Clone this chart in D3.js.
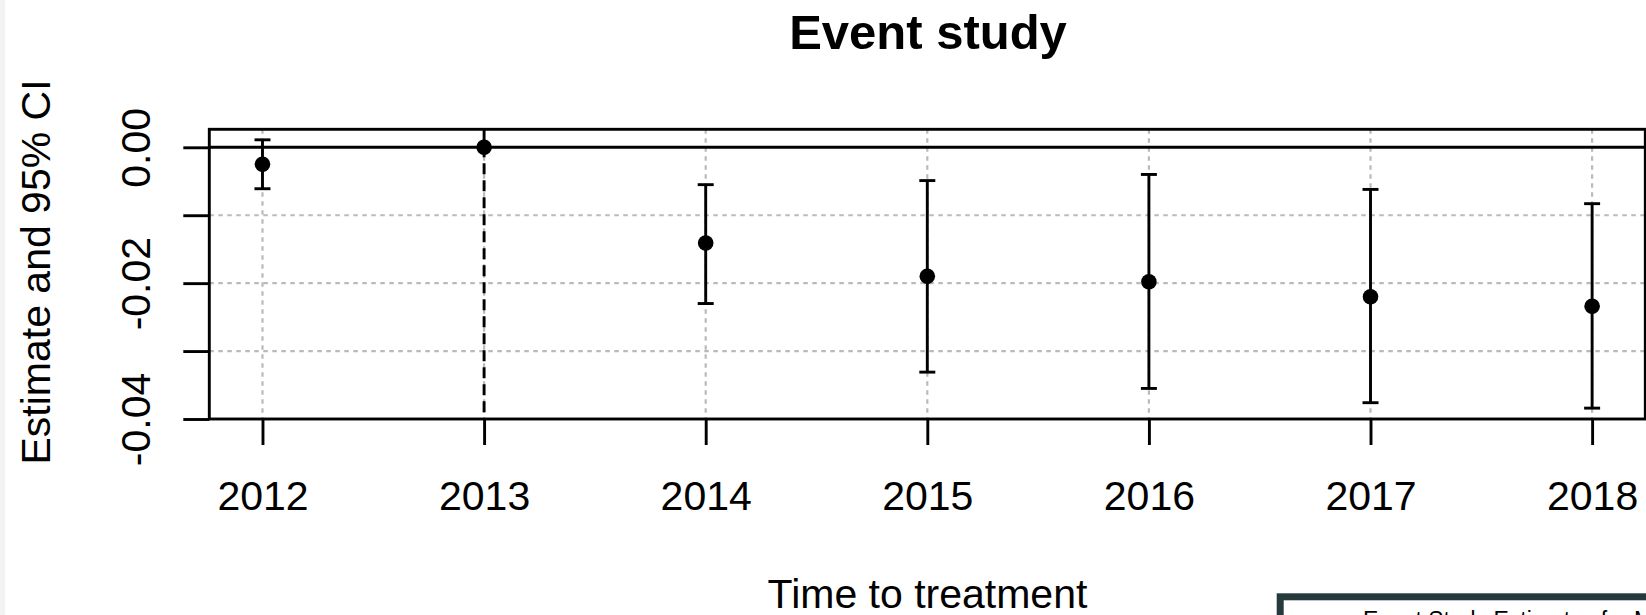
<!DOCTYPE html>
<html>
<head>
<meta charset="utf-8">
<script src="https://cdn.jsdelivr.net/npm/d3@7"></script>
<style>
  html, body { margin: 0; padding: 0; background: #ffffff; }
  svg { display: block; font-family: "Liberation Sans", Arial, Helvetica, sans-serif; }
</style>
</head>
<body>
<svg id="chart" width="1646" height="615"></svg>
<script>
// ---- data ----
const years = [2012, 2013, 2014, 2015, 2016, 2017, 2018];
const estimate = [-0.0025, 0, -0.0141, -0.0190, -0.0198, -0.0220, -0.0234];
const ciLow = [-0.0061, null, -0.0230, -0.0331, -0.0355, -0.0376, -0.0384];
const ciHigh = [0.0011, null, -0.0055, -0.0049, -0.0040, -0.0062, -0.0083];
const refYear = 2013;
const yTicks = [0, -0.01, -0.02, -0.03, -0.04];
const yTickLabels = ["0.00", "", "-0.02", "", "-0.04"];
const xTickLabels = ["2012", "2013", "2014", "2015", "2016", "2017", "2018"];
const xLim = [2011.76, 2018.24];
const yLim = [-0.04, 0.00265];

const titleText = "Event study";
const xTitle = "Time to treatment";
const yTitle = "Estimate and 95% CI";
const legendText = "Event Study Estimates for Mortality";

// ---- layout ----
const svg = d3.select("#chart");
const W = 1646, H = 615;
const plotL = 209.3, plotR = 1645.3, plotT = 129.3, plotB = 419;

svg.append("rect").attr("x", 0).attr("y", 0).attr("width", W).attr("height", H).attr("fill", "#ffffff");
svg.append("rect").attr("x", 0).attr("y", 0).attr("width", 5).attr("height", H).attr("fill", "#f3f3f3");

const x = d3.scaleLinear().domain(xLim).range([plotL, plotR]);
const y = d3.scaleLinear().domain(yLim).range([plotB, plotT]);

const gridColor = "#bababa";
const lw = 2.9;

// grid
const grid = svg.append("g");
grid.selectAll("line.vg").data(years).join("line")
  .attr("x1", d => x(d)).attr("x2", d => x(d))
  .attr("y1", y(yLim[1])).attr("y2", y(yLim[0]))
  .attr("stroke", gridColor).attr("stroke-width", 2.2).attr("stroke-dasharray", "4.5,4.5");
grid.selectAll("line.hg").data(yTicks.filter(d => d !== 0 && d !== yLim[0])).join("line")
  .attr("x1", x(xLim[0])).attr("x2", x(xLim[1]))
  .attr("y1", d => y(d)).attr("y2", d => y(d))
  .attr("stroke", gridColor).attr("stroke-width", 2.2).attr("stroke-dasharray", "4.5,4.5");

// zero line
svg.append("line")
  .attr("x1", x(xLim[0])).attr("x2", x(xLim[1]))
  .attr("y1", y(0)).attr("y2", y(0))
  .attr("stroke", "#000").attr("stroke-width", lw);

// reference dashed line
svg.append("line")
  .attr("x1", x(refYear)).attr("x2", x(refYear))
  .attr("y1", y(yLim[1])).attr("y2", y(yLim[0]))
  .attr("stroke", "#000").attr("stroke-width", lw).attr("stroke-dasharray", "11,6");

// CI bars
const pts = years.map((d, i) => ({ year: d, est: estimate[i], lo: ciLow[i], hi: ciHigh[i] }));
const ci = pts.filter(d => d.lo !== null);
const capHalf = 8;
const gci = svg.append("g").attr("stroke", "#000").attr("stroke-width", lw);
gci.selectAll("line.v").data(ci).join("line")
  .attr("x1", d => x(d.year)).attr("x2", d => x(d.year))
  .attr("y1", d => y(d.lo)).attr("y2", d => y(d.hi));
gci.selectAll("line.lo").data(ci).join("line")
  .attr("x1", d => x(d.year) - capHalf).attr("x2", d => x(d.year) + capHalf)
  .attr("y1", d => y(d.lo)).attr("y2", d => y(d.lo));
gci.selectAll("line.hi").data(ci).join("line")
  .attr("x1", d => x(d.year) - capHalf).attr("x2", d => x(d.year) + capHalf)
  .attr("y1", d => y(d.hi)).attr("y2", d => y(d.hi));

// points
svg.append("g").selectAll("circle").data(pts).join("circle")
  .attr("cx", d => x(d.year)).attr("cy", d => y(d.est)).attr("r", 7.8)
  .attr("fill", "#000");

// box
svg.append("rect")
  .attr("x", plotL).attr("y", plotT)
  .attr("width", plotR - plotL).attr("height", plotB - plotT)
  .attr("fill", "none").attr("stroke", "#000").attr("stroke-width", lw);

// y axis
const yAxis = d3.axisLeft(y).tickValues(yTicks).tickSize(26)
  .tickFormat((d, i) => yTickLabels[i]);
const gy = svg.append("g").attr("transform", `translate(${plotL},0)`).call(yAxis);
gy.select(".domain").remove();
gy.selectAll(".tick line").attr("stroke", "#000").attr("stroke-width", lw);
gy.selectAll(".tick text")
  .attr("x", null).attr("dy", null)
  .attr("transform", "translate(-59.3,0) rotate(-90)")
  .attr("text-anchor", "middle")
  .attr("fill", "#000")
  .style("font-family", '"Liberation Sans", Arial, sans-serif')
  .style("font-size", "41px");

// x axis
const xAxis = d3.axisBottom(x).tickValues(years).tickSize(26)
  .tickFormat((d, i) => xTickLabels[i]);
const gx = svg.append("g").attr("transform", `translate(0,${plotB})`).call(xAxis);
gx.select(".domain").remove();
gx.selectAll(".tick line").attr("stroke", "#000").attr("stroke-width", lw);
gx.selectAll(".tick text")
  .attr("y", 91).attr("dy", null)
  .attr("fill", "#000")
  .style("font-family", '"Liberation Sans", Arial, sans-serif')
  .style("font-size", "41px");

// titles
svg.append("text").attr("x", 928).attr("y", 48.5)
  .attr("text-anchor", "middle").attr("font-weight", "bold")
  .style("font-size", "49px").attr("fill", "#000").text(titleText);
svg.append("text").attr("x", 927.5).attr("y", 608.3)
  .attr("text-anchor", "middle")
  .style("font-size", "41px").attr("fill", "#000").text(xTitle);
svg.append("text")
  .attr("transform", "translate(50,272) rotate(-90)")
  .attr("text-anchor", "middle")
  .style("font-size", "41px").attr("fill", "#000").text(yTitle);

// partial legend box at bottom right
svg.append("rect")
  .attr("x", 1280.2).attr("y", 596.8)
  .attr("width", 420).attr("height", 80)
  .attr("fill", "#ffffff").attr("stroke", "#263a3e").attr("stroke-width", 7);
svg.append("text").attr("x", 1363).attr("y", 627.5)
  .style("font-size", "23px").attr("fill", "#000").text(legendText);
</script>
</body>
</html>
